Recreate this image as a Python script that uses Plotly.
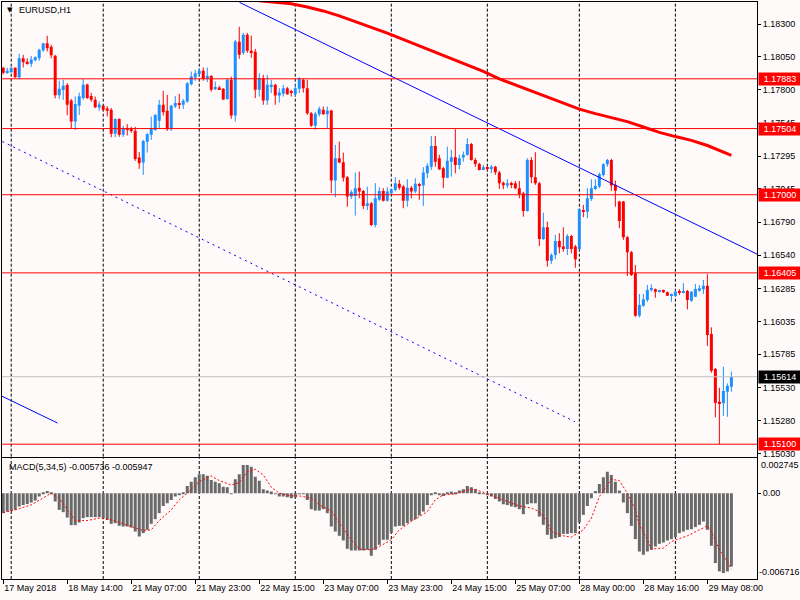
import plotly.graph_objects as go

# ---------------- data ----------------
opens = [
    1.17967, 1.17929, 1.17932, 1.17967, 1.17894, 1.18039, 1.18012, 1.17997, 1.18024, 1.18039,
    1.18100, 1.18153, 1.18127, 1.18058, 1.17757, 1.17797, 1.17835, 1.17717, 1.17557, 1.17677,
    1.17736, 1.17839, 1.17753, 1.17723, 1.17664, 1.17677, 1.17656, 1.17647, 1.17464, 1.17576,
    1.17456, 1.17509, 1.17496, 1.17487, 1.17283, 1.17245, 1.17403, 1.17456, 1.17494, 1.17563,
    1.17685, 1.17639, 1.17498, 1.17672, 1.17698, 1.17685, 1.17710, 1.17842, 1.17893, 1.17919,
    1.17944, 1.17883, 1.17906, 1.17804, 1.17817, 1.17807, 1.17730, 1.17875, 1.17603, 1.18165,
    1.18081, 1.18218, 1.18096, 1.18089, 1.17799, 1.17888, 1.17717, 1.17824, 1.17837, 1.17756,
    1.17769, 1.17812, 1.17781, 1.17766, 1.17807, 1.17875, 1.17812, 1.17621, 1.17525, 1.17614,
    1.17647, 1.17614, 1.17641, 1.17108, 1.17278, 1.17248, 1.17134, 1.16986, 1.16991, 1.17054,
    1.17029, 1.16915, 1.16935, 1.16770, 1.16961, 1.17029, 1.16955, 1.17012, 1.17037, 1.17083,
    1.17062, 1.16955, 1.17054, 1.17024, 1.17080, 1.17070, 1.17164, 1.17214, 1.17372, 1.17278,
    1.17202, 1.17130, 1.17252, 1.17286, 1.17227, 1.17283, 1.17304, 1.17387, 1.17265, 1.17235,
    1.17195, 1.17210, 1.17202, 1.17214, 1.17170, 1.17092, 1.17070, 1.17088, 1.17088, 1.17050,
    1.17012, 1.16877, 1.17265, 1.17134, 1.17088, 1.16663, 1.16752, 1.16498, 1.16541, 1.16648,
    1.16605, 1.16587, 1.16686, 1.16605, 1.16585, 1.16884, 1.16871, 1.16968, 1.17044, 1.17062,
    1.17151, 1.17233, 1.17265, 1.17075, 1.16948, 1.16948, 1.16676, 1.16562, 1.16402, 1.16079,
    1.16155, 1.16198, 1.16275, 1.16280, 1.16262, 1.16275, 1.16257, 1.16231, 1.16229, 1.16262,
    1.16257, 1.16267, 1.16193, 1.16223, 1.16269, 1.16280, 1.16307, 1.15939, 1.15672, 1.15423,
    1.15411, 1.15499, 1.15537]
highs = [
    1.17974, 1.17967, 1.17970, 1.17970, 1.18073, 1.18066, 1.18039, 1.18058, 1.18054, 1.18111,
    1.18157, 1.18211, 1.18142, 1.18066, 1.17868, 1.17875, 1.17850, 1.17730, 1.17748, 1.17778,
    1.17881, 1.17845, 1.17776, 1.17748, 1.17710, 1.17685, 1.17675, 1.17660, 1.17582, 1.17582,
    1.17525, 1.17538, 1.17517, 1.17517, 1.17326, 1.17418, 1.17471, 1.17596, 1.17616, 1.17723,
    1.17791, 1.17761, 1.17685, 1.17753, 1.17769, 1.17730, 1.17858, 1.17938, 1.17951, 1.17964,
    1.17969, 1.17969, 1.17908, 1.17862, 1.17830, 1.17812, 1.17887, 1.17900, 1.18180, 1.18279,
    1.18233, 1.18233, 1.18211, 1.18111, 1.17926, 1.17913, 1.17913, 1.17875, 1.17845, 1.17812,
    1.17837, 1.17822, 1.17799, 1.17837, 1.17896, 1.17888, 1.17875, 1.17631, 1.17631, 1.17672,
    1.17672, 1.17672, 1.17647, 1.17380, 1.17405, 1.17321, 1.17143, 1.17037, 1.17169, 1.17176,
    1.17037, 1.17062, 1.16945, 1.17088, 1.17057, 1.17050, 1.17057, 1.17044, 1.17134, 1.17113,
    1.17075, 1.17118, 1.17067, 1.17126, 1.17090, 1.17210, 1.17240, 1.17448, 1.17448, 1.17304,
    1.17212, 1.17367, 1.17342, 1.17499, 1.17304, 1.17329, 1.17431, 1.17395, 1.17281, 1.17243,
    1.17227, 1.17216, 1.17227, 1.17220, 1.17182, 1.17100, 1.17118, 1.17100, 1.17105, 1.17105,
    1.17022, 1.17278, 1.17286, 1.17324, 1.17098, 1.16864, 1.16795, 1.16554, 1.16694, 1.16707,
    1.16752, 1.16699, 1.16694, 1.16618, 1.16897, 1.16922, 1.17050, 1.17118, 1.17118, 1.17169,
    1.17240, 1.17273, 1.17273, 1.17108, 1.16953, 1.16953, 1.16686, 1.16572, 1.16465, 1.16244,
    1.16244, 1.16313, 1.16318, 1.16286, 1.16275, 1.16278, 1.16263, 1.16248, 1.16275, 1.16280,
    1.16326, 1.16275, 1.16267, 1.16320, 1.16313, 1.16351, 1.16394, 1.15990, 1.15680, 1.15530,
    1.15690, 1.15563, 1.15652]
lows = [
    1.17917, 1.17921, 1.17929, 1.17890, 1.17879, 1.17970, 1.17990, 1.17974, 1.18016, 1.18020,
    1.18089, 1.18092, 1.18039, 1.17734, 1.17730, 1.17723, 1.17605, 1.17507, 1.17492, 1.17608,
    1.17723, 1.17730, 1.17708, 1.17660, 1.17639, 1.17639, 1.17596, 1.17438, 1.17438, 1.17441,
    1.17441, 1.17451, 1.17471, 1.17258, 1.17197, 1.17151, 1.17321, 1.17418, 1.17487, 1.17507,
    1.17603, 1.17487, 1.17487, 1.17660, 1.17652, 1.17654, 1.17700, 1.17832, 1.17868, 1.17908,
    1.17868, 1.17858, 1.17786, 1.17797, 1.17799, 1.17723, 1.17723, 1.17578, 1.17557, 1.18035,
    1.18066, 1.18081, 1.18043, 1.17736, 1.17748, 1.17685, 1.17685, 1.17774, 1.17685, 1.17702,
    1.17748, 1.17761, 1.17748, 1.17748, 1.17774, 1.17778, 1.17608, 1.17517, 1.17494, 1.17596,
    1.17608, 1.17507, 1.17012, 1.16981, 1.17240, 1.17100, 1.16909, 1.16968, 1.16841, 1.16973,
    1.16890, 1.16884, 1.16762, 1.16752, 1.16953, 1.16948, 1.16948, 1.17006, 1.17024, 1.17037,
    1.16897, 1.16909, 1.16973, 1.17012, 1.16961, 1.16915, 1.17126, 1.17189, 1.17214, 1.17189,
    1.17050, 1.17126, 1.17138, 1.17164, 1.17195, 1.17252, 1.17296, 1.17260, 1.17212, 1.17185,
    1.17189, 1.17176, 1.17164, 1.17151, 1.17044, 1.17042, 1.17050, 1.17050, 1.17042, 1.16973,
    1.16833, 1.16871, 1.17088, 1.17075, 1.16610, 1.16656, 1.16452, 1.16473, 1.16509, 1.16554,
    1.16566, 1.16541, 1.16554, 1.16444, 1.16580, 1.16829, 1.16821, 1.16953, 1.17037, 1.17050,
    1.17138, 1.17214, 1.17029, 1.16909, 1.16745, 1.16656, 1.16381, 1.16381, 1.16071, 1.16066,
    1.16147, 1.16185, 1.16262, 1.16216, 1.16255, 1.16252, 1.16229, 1.16185, 1.16223, 1.16236,
    1.16249, 1.16127, 1.16185, 1.16221, 1.16262, 1.16244, 1.15848, 1.15644, 1.15304, 1.15101,
    1.15316, 1.15309, 1.15499]
closes = [
    1.17929, 1.17944, 1.17967, 1.17894, 1.18039, 1.18009, 1.18003, 1.18031, 1.18047, 1.18104,
    1.18153, 1.18115, 1.18062, 1.17757, 1.17807, 1.17830, 1.17685, 1.17557, 1.17692, 1.17751,
    1.17837, 1.17736, 1.17723, 1.17667, 1.17687, 1.17647, 1.17639, 1.17464, 1.17576, 1.17456,
    1.17509, 1.17499, 1.17487, 1.17273, 1.17240, 1.17410, 1.17460, 1.17502, 1.17608, 1.17685,
    1.17629, 1.17499, 1.17677, 1.17698, 1.17685, 1.17715, 1.17850, 1.17900, 1.17926, 1.17944,
    1.17883, 1.17906, 1.17799, 1.17820, 1.17804, 1.17725, 1.17875, 1.17603, 1.18167, 1.18066,
    1.18218, 1.18096, 1.18081, 1.17799, 1.17888, 1.17717, 1.17837, 1.17837, 1.17756, 1.17778,
    1.17812, 1.17766, 1.17776, 1.17812, 1.17883, 1.17812, 1.17621, 1.17525, 1.17616, 1.17654,
    1.17614, 1.17641, 1.17108, 1.17278, 1.17245, 1.17130, 1.16986, 1.17021, 1.17050, 1.17024,
    1.16915, 1.16935, 1.16770, 1.16973, 1.17029, 1.16955, 1.17024, 1.17042, 1.17088, 1.17054,
    1.16955, 1.17054, 1.17024, 1.17083, 1.17070, 1.17169, 1.17220, 1.17372, 1.17252, 1.17195,
    1.17130, 1.17258, 1.17286, 1.17227, 1.17278, 1.17304, 1.17387, 1.17265, 1.17235, 1.17189,
    1.17210, 1.17197, 1.17214, 1.17172, 1.17088, 1.17073, 1.17088, 1.17080, 1.17050, 1.17006,
    1.16877, 1.17265, 1.17134, 1.17088, 1.16663, 1.16752, 1.16498, 1.16541, 1.16648, 1.16600,
    1.16587, 1.16686, 1.16587, 1.16509, 1.16890, 1.16871, 1.16973, 1.17050, 1.17067, 1.17156,
    1.17233, 1.17265, 1.17070, 1.17031, 1.16800, 1.16676, 1.16562, 1.16389, 1.16079, 1.16160,
    1.16204, 1.16275, 1.16282, 1.16262, 1.16269, 1.16257, 1.16231, 1.16242, 1.16262, 1.16254,
    1.16267, 1.16198, 1.16262, 1.16282, 1.16287, 1.16307, 1.15931, 1.15659, 1.15415, 1.15411,
    1.15505, 1.15545, 1.15614]

# moving average (thick red line), sampled at bar indices
ma_x = [64, 68, 72, 76, 80, 84, 88, 92, 96, 100, 104, 108, 112, 116, 120, 124, 128, 132,
        136, 140, 144, 148, 152, 156, 160, 164, 168, 172, 176, 180, 182]
ma_vals = [1.18478, 1.18466, 1.18455, 1.18430, 1.18400, 1.18362, 1.18316, 1.18275, 1.18231,
           1.18183, 1.18132, 1.18083, 1.18036, 1.17990, 1.17939, 1.17882, 1.17837, 1.17786,
           1.17742, 1.17699, 1.17652, 1.17618, 1.17590, 1.17557, 1.17516, 1.17475, 1.17443,
           1.17414, 1.17375, 1.17325, 1.17299]

# MACD histogram (one value per bar) and signal line
macd_hist = [
    -0.001556, -0.001431, -0.001376, -0.001298, -0.001040, -0.000907, -0.000829, -0.000727, -0.000571, -0.000258,
    0.000086, 0.000188, 0.000086, -0.000649, -0.001298, -0.001478, -0.001900, -0.002495, -0.002495, -0.002291,
    -0.001947, -0.001869, -0.001869, -0.001869, -0.001869, -0.001947, -0.002080, -0.002393, -0.002338, -0.002549,
    -0.002604, -0.002604, -0.002682, -0.002995, -0.003386, -0.003120, -0.002862, -0.002393, -0.002025, -0.001556,
    -0.000985, -0.000774, -0.000516, -0.000258, -0.000125, 0.000055, 0.000579, 0.000915, 0.001259, 0.001494,
    0.001494, 0.001384, 0.001048, 0.000915, 0.000790, 0.000524, 0.000477, -0.000070, 0.001103, 0.001494,
    0.002221, 0.002221, 0.002088, 0.001306, 0.000993, 0.000321, 0.000211, 0.000133, -0.000070, -0.000258,
    -0.000258, -0.000305, -0.000383, -0.000336, -0.000047, -0.000047, -0.000516, -0.001243, -0.001353, -0.001353,
    -0.001243, -0.001556, -0.002604, -0.002995, -0.003331, -0.003699, -0.004348, -0.004481, -0.004481, -0.004481,
    -0.004481, -0.004426, -0.004895, -0.004426, -0.004035, -0.003644, -0.003644, -0.003120, -0.002604, -0.002549,
    -0.002549, -0.002338, -0.002158, -0.002025, -0.001744, -0.001431, -0.000907, -0.000125, 0.000055, -0.000125,
    -0.000203, 0.000020, 0.000133, 0.000055, 0.000211, 0.000321, 0.000579, 0.000477, 0.000321, 0.000055,
    -0.000070, -0.000125, -0.000258, -0.000438, -0.000649, -0.000852, -0.000907, -0.001040, -0.001087, -0.001243,
    -0.001634, -0.000852, -0.000774, -0.000774, -0.001822, -0.002471, -0.003253, -0.003589, -0.003511, -0.003433,
    -0.003175, -0.003175, -0.003120, -0.003120, -0.002291, -0.001689, -0.000985, -0.000383, 0.000188, 0.000735,
    0.001259, 0.001697, 0.001439, 0.000915, 0.000211, -0.000727, -0.001556, -0.002549, -0.003589, -0.004559,
    -0.004817, -0.004559, -0.004426, -0.004168, -0.003957, -0.003855, -0.003699, -0.003589, -0.003433, -0.003120,
    -0.002995, -0.002862, -0.002807, -0.002651, -0.002471, -0.002213, -0.002862, -0.004113, -0.005466, -0.006123,
    -0.006248, -0.006123, -0.005736]
signal_x = [0, 3, 7, 9, 11, 12, 14, 16, 18, 21, 24, 27, 29, 32, 35, 37, 39, 42, 44, 46, 49, 52, 54,
            57, 59, 61, 63, 65, 67, 69, 72, 74, 77, 79, 82, 84, 87, 89, 92, 94, 97, 99, 102, 106,
            108, 110, 113, 116, 118, 121, 123, 126, 129, 132, 134, 136, 137, 140, 142, 145, 147,
            149, 151, 152, 154, 156, 158, 159, 161, 162, 165, 167, 171, 173, 176, 177, 179, 181, 182]
signal_vals = [-0.001509, -0.001298, -0.000907, -0.000516, -0.000125, 0.000008, -0.000383, -0.001298,
               -0.002135, -0.002135, -0.001947, -0.002080, -0.002291, -0.002651, -0.002917, -0.002862,
               -0.002135, -0.001298, -0.000516, 0.000008, 0.000915, 0.001361, 0.000993, 0.000657,
               0.000837, 0.001697, 0.001885, 0.001439, 0.000477, 0.000008, -0.000203, -0.000203,
               -0.000383, -0.000907, -0.001376, -0.002338, -0.003644, -0.004371, -0.004426, -0.004168,
               -0.003644, -0.002862, -0.002213, -0.001431, -0.000516, -0.000125, -0.000047, 0.000266,
               0.000321, -0.000047, -0.000258, -0.000649, -0.000985, -0.001165, -0.001431, -0.002213,
               -0.002995, -0.003331, -0.003433, -0.002862, -0.001947, -0.000258, 0.000657, 0.001103,
               0.000993, 0.000008, -0.001298, -0.002471, -0.003644, -0.004371, -0.004293, -0.003777,
               -0.003331, -0.002995, -0.002549, -0.002995, -0.004426, -0.005341, -0.005947]

# user-drawn objects
levels = [1.17883, 1.17504, 1.17000, 1.16405, 1.15100]
current_price = 1.15614
trend_dotted_x = [-0.2, 142.9]
trend_dotted_y = [1.17405, 1.15271]
trend_long_x = [59.05, 188.4]
trend_long_y = [1.18465, 1.16548]
trend_short_x = [-0.4, 13.6]
trend_short_y = [1.15467, 1.15261]

# axes
price_ticks = [1.18300, 1.18050, 1.17800, 1.17545, 1.17295, 1.17045, 1.16790,
               1.16540, 1.16285, 1.16035, 1.15785, 1.15530, 1.15280, 1.15030]
time_tick_bars = [0, 16, 32, 48, 64, 80, 96, 112, 128, 144, 160, 176]
time_tick_labels = ["17 May 2018", "18 May 14:00", "21 May 07:00", "21 May 23:00",
                    "22 May 15:00", "23 May 07:00", "23 May 23:00", "24 May 15:00",
                    "25 May 07:00", "28 May 00:00", "28 May 16:00", "29 May 08:00"]
day_grid_bars = [2, 25, 49, 73, 97, 121, 144, 168]
macd_max = 0.002745
macd_min = -0.006716
macd_title = "MACD(5,34,5) -0.005736 -0.005947"
chart_title = "EURUSD,H1"

# ---------------- styling ----------------
BG = "#FFFAFA"
UP = "#1E90FF"
DOWN = "#FF0000"
FONT = "Liberation Sans"
XR = [-0.3, 188.4]
YR = [1.15005, 1.18468]
MIN_BODY = 0.00008

bars = list(range(len(opens)))
is_up = [c >= o for o, c in zip(opens, closes)]
body_base = [min(o, c) for o, c in zip(opens, closes)]
body_h = [max(abs(c - o), MIN_BODY) for o, c in zip(opens, closes)]
body_col = [UP if u else DOWN for u in is_up]

fig = go.Figure()

# wicks
for flag, col in ((True, UP), (False, DOWN)):
    wx, wy = [], []
    for i in bars:
        if is_up[i] == flag:
            wx += [i, i, None]
            wy += [lows[i], highs[i], None]
    fig.add_trace(go.Scatter(x=wx, y=wy, mode="lines", line=dict(color=col, width=1),
                             xaxis="x", yaxis="y", hoverinfo="skip"))

# bodies
fig.add_trace(go.Bar(x=bars, y=body_h, base=body_base, width=0.75,
                     marker=dict(color=body_col, line=dict(width=0)),
                     xaxis="x", yaxis="y", hoverinfo="skip"))

# moving average
fig.add_trace(go.Scatter(x=ma_x, y=ma_vals, mode="lines", line=dict(color="#FF0000", width=3),
                         xaxis="x", yaxis="y", hoverinfo="skip"))

# trend lines
fig.add_trace(go.Scatter(x=trend_dotted_x, y=trend_dotted_y, mode="lines",
                         line=dict(color="#0000FF", width=1, dash="2px,4px"),
                         xaxis="x", yaxis="y", hoverinfo="skip"))
fig.add_trace(go.Scatter(x=trend_long_x, y=trend_long_y, mode="lines",
                         line=dict(color="#0000FF", width=1), xaxis="x", yaxis="y", hoverinfo="skip"))
fig.add_trace(go.Scatter(x=trend_short_x, y=trend_short_y, mode="lines",
                         line=dict(color="#0000FF", width=1), xaxis="x", yaxis="y", hoverinfo="skip"))

# MACD histogram + signal
fig.add_trace(go.Bar(x=bars, y=macd_hist, width=0.75,
                     marker=dict(color="#696969", line=dict(width=0)),
                     xaxis="x2", yaxis="y2", hoverinfo="skip"))
fig.add_trace(go.Scatter(x=signal_x, y=signal_vals, mode="lines",
                         line=dict(color="#FF0000", width=1, dash="2px,2px"),
                         xaxis="x2", yaxis="y2", hoverinfo="skip"))

shapes = []
for b in day_grid_bars:
    for xr, yr in (("x", "y domain"), ("x2", "y2 domain")):
        shapes.append(dict(type="line", xref=xr, yref=yr, x0=b, x1=b, y0=0, y1=1,
                           line=dict(color="black", width=1, dash="3px,2px"), layer="below"))
for lv in levels:
    shapes.append(dict(type="line", xref="x domain", yref="y", x0=0, x1=1, y0=lv, y1=lv,
                       line=dict(color="#FF0000", width=1), layer="above"))
shapes.append(dict(type="line", xref="x domain", yref="y", x0=0, x1=1,
                   y0=current_price, y1=current_price,
                   line=dict(color="#C0C0C0", width=1), layer="above"))

annotations = []
for lv in levels:
    annotations.append(dict(xref="paper", yref="y", x=1, y=lv, xanchor="left", yanchor="middle",
                            xshift=1, text=f"{lv:.5f}", showarrow=False, bgcolor="#FF0000",
                            font=dict(color="white", size=9, family=FONT),
                            width=40, height=10, borderpad=1, align="center"))
annotations.append(dict(xref="paper", yref="y", x=1, y=current_price, xanchor="left",
                        yanchor="middle", xshift=1, text=f"{current_price:.5f}", showarrow=False,
                        bgcolor="black", font=dict(color="white", size=9, family=FONT),
                        width=40, height=10, borderpad=1, align="center"))
annotations.append(dict(xref="paper", yref="y2", x=1, y=macd_max, xanchor="left", yanchor="top",
                        xshift=2, text=f"{macd_max:.6f}", showarrow=False,
                        font=dict(color="black", size=9, family=FONT)))
annotations.append(dict(xref="paper", yref="y2", x=1, y=macd_min, xanchor="left", yanchor="bottom",
                        xshift=0, text=f"{macd_min:.6f}", showarrow=False,
                        font=dict(color="black", size=9, family=FONT)))
annotations.append(dict(xref="paper", yref="paper", x=0.0205, y=0.986, xanchor="left",
                        yanchor="middle", text=chart_title, showarrow=False,
                        font=dict(color="black", size=9, family=FONT)))
annotations.append(dict(xref="paper", yref="paper", x=0.0102, y=0.9855, xanchor="center",
                        yanchor="middle", text="▼", showarrow=False,
                        font=dict(color="black", size=7, family="DejaVu Sans")))
annotations.append(dict(xref="paper", yref="paper", x=0.007, y=0.1945, xanchor="left",
                        yanchor="middle", text=macd_title, showarrow=False,
                        font=dict(color="black", size=9, family=FONT)))

axis_common = dict(showgrid=False, zeroline=False, showline=True, linecolor="black",
                   linewidth=1, mirror=True)

fig.update_layout(
    width=800, height=600,
    margin=dict(l=2, r=43, t=2, b=21),
    paper_bgcolor=BG, plot_bgcolor=BG,
    showlegend=False, barmode="overlay",
    font=dict(family=FONT, size=9, color="black"),
    xaxis=dict(domain=[0, 1], anchor="y", range=XR, showticklabels=False, ticks="", **axis_common),
    xaxis2=dict(domain=[0, 1], anchor="y2", range=XR, tickmode="array", tickvals=time_tick_bars,
                ticktext=time_tick_labels, ticks="outside", ticklen=4, tickcolor="black",
                ticklabelposition="outside right", **axis_common),
    yaxis=dict(domain=[0.2120, 1], anchor="x", side="right", range=YR, tickmode="array",
               tickvals=price_ticks, ticktext=[f"{v:.5f}" for v in price_ticks],
               ticks="outside", ticklen=3, tickcolor="black", **axis_common),
    yaxis2=dict(domain=[0, 0.2092], anchor="x2", side="right", range=[macd_min, macd_max],
                tickmode="array", tickvals=[0], ticktext=["0.00"], ticks="outside", ticklen=3,
                tickcolor="black", **axis_common),
    shapes=shapes, annotations=annotations,
)

fig.write_html(
    "out.html",
    config={"displayModeBar": False},
    post_script="document.body.style.margin='0px';document.body.style.background='#FFFAFA';",
)
